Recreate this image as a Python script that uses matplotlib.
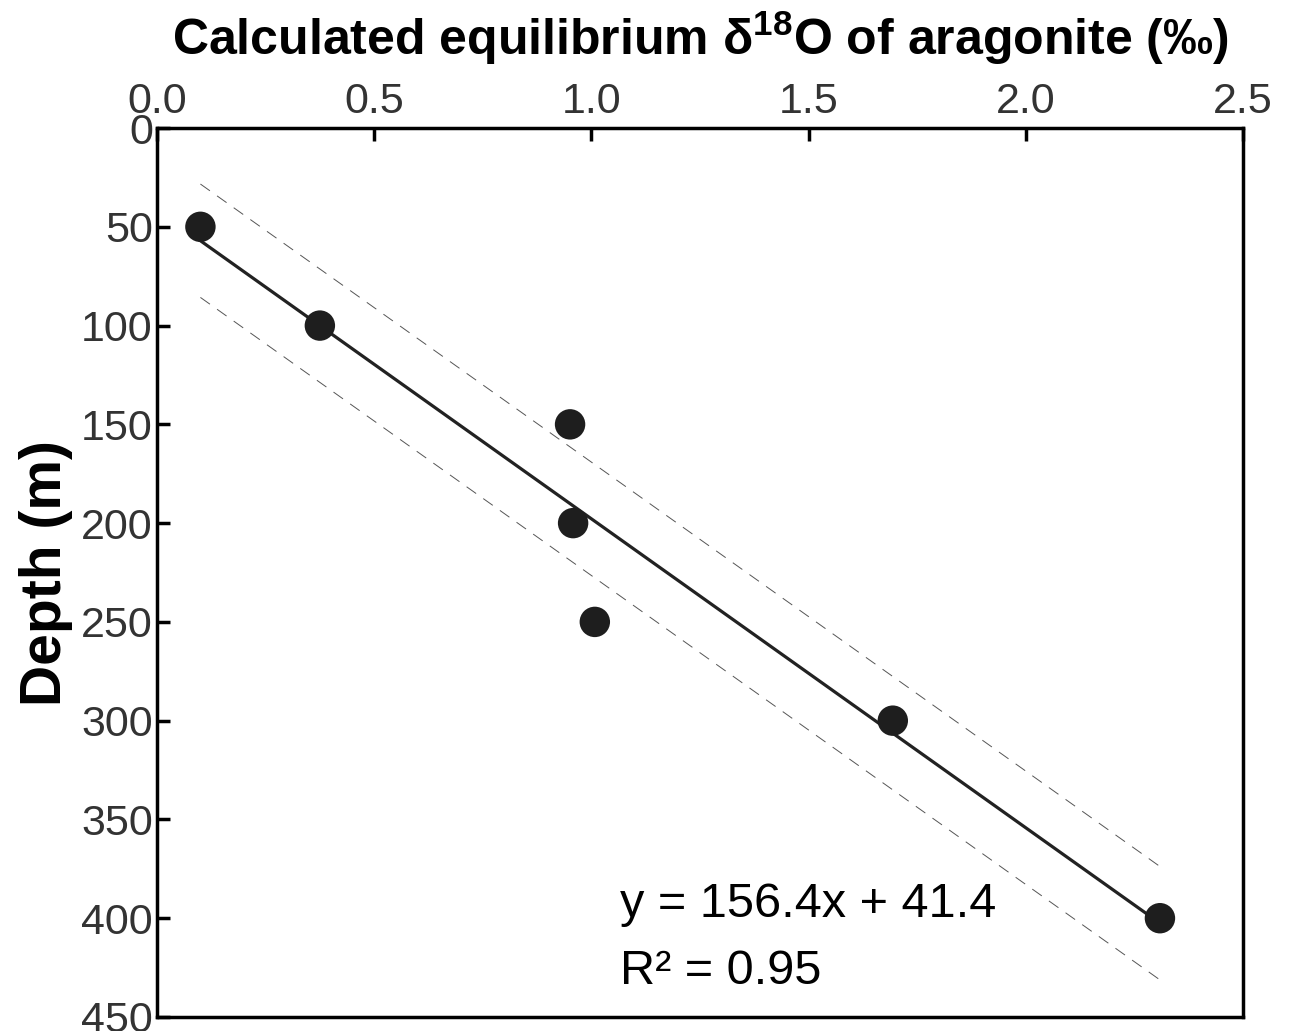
import matplotlib
matplotlib.use("Agg")
import matplotlib.pyplot as plt
import numpy as np

plt.rcParams['font.family'] = ['Liberation Sans', 'DejaVu Sans']
plt.rcParams['mathtext.fontset'] = 'custom'
plt.rcParams['mathtext.bf'] = 'Liberation Sans:bold'
plt.rcParams['mathtext.rm'] = 'Liberation Sans:bold'

# measured data
d18o = [0.10, 0.375, 0.951, 0.958, 1.008, 1.694, 2.309]
depth = [50, 100, 150, 200, 250, 300, 400]

slope = 156.4
intercept = 41.4
band = 28.7  # half width of the dashed band

x_ticks = [0.0, 0.5, 1.0, 1.5, 2.0, 2.5]
y_ticks = [0, 50, 100, 150, 200, 250, 300, 350, 400, 450]


def main():
    fig = plt.figure(figsize=(12.92, 10.31), dpi=100)
    ax = fig.add_axes([0.1215, 0.0136, 0.8405, 0.8622])

    xs = np.array([min(d18o), max(d18o)])
    fit = slope * xs + intercept
    ax.plot(xs, fit, color='#222222', lw=2.3, zorder=2)
    ax.plot(xs, fit - band, color='#555555', lw=0.7, ls=(0, (12, 9)), zorder=1)
    ax.plot(xs, fit + band, color='#555555', lw=0.7, ls=(0, (12, 9)), zorder=1)

    ax.scatter(d18o, depth, s=480, color='#1e1e1e', edgecolors='none', zorder=3)

    ax.set_xlim(0, 2.5)
    ax.set_ylim(450, 0)
    ax.set_xticks(x_ticks)
    ax.set_xticklabels([f"{v:.1f}" for v in x_ticks])
    ax.set_yticks(y_ticks)
    ax.xaxis.tick_top()
    ax.xaxis.set_label_position('top')
    ax.tick_params(axis='both', direction='in', length=9, width=2.5,
                   labelsize=31, labelcolor='#333333', pad=3)
    ax.tick_params(axis='x', pad=4)
    for sp in ax.spines.values():
        sp.set_linewidth(2.5)

    ax.set_xlabel("Calculated equilibrium δ$^{\\mathrm{18}}$O of aragonite (‰)",
                  fontsize=36, fontweight='bold', labelpad=20)
    ax.set_ylabel("Depth (m)", fontsize=41, fontweight='bold', labelpad=6)

    ax.text(1.066, 393, f"y = {slope}x + {intercept}", fontsize=35, va='center')
    ax.text(1.066, 427, "R² = 0.95", fontsize=35, va='center')

    fig.savefig("out.png", dpi=100)


if __name__ == '__main__':
    main()
